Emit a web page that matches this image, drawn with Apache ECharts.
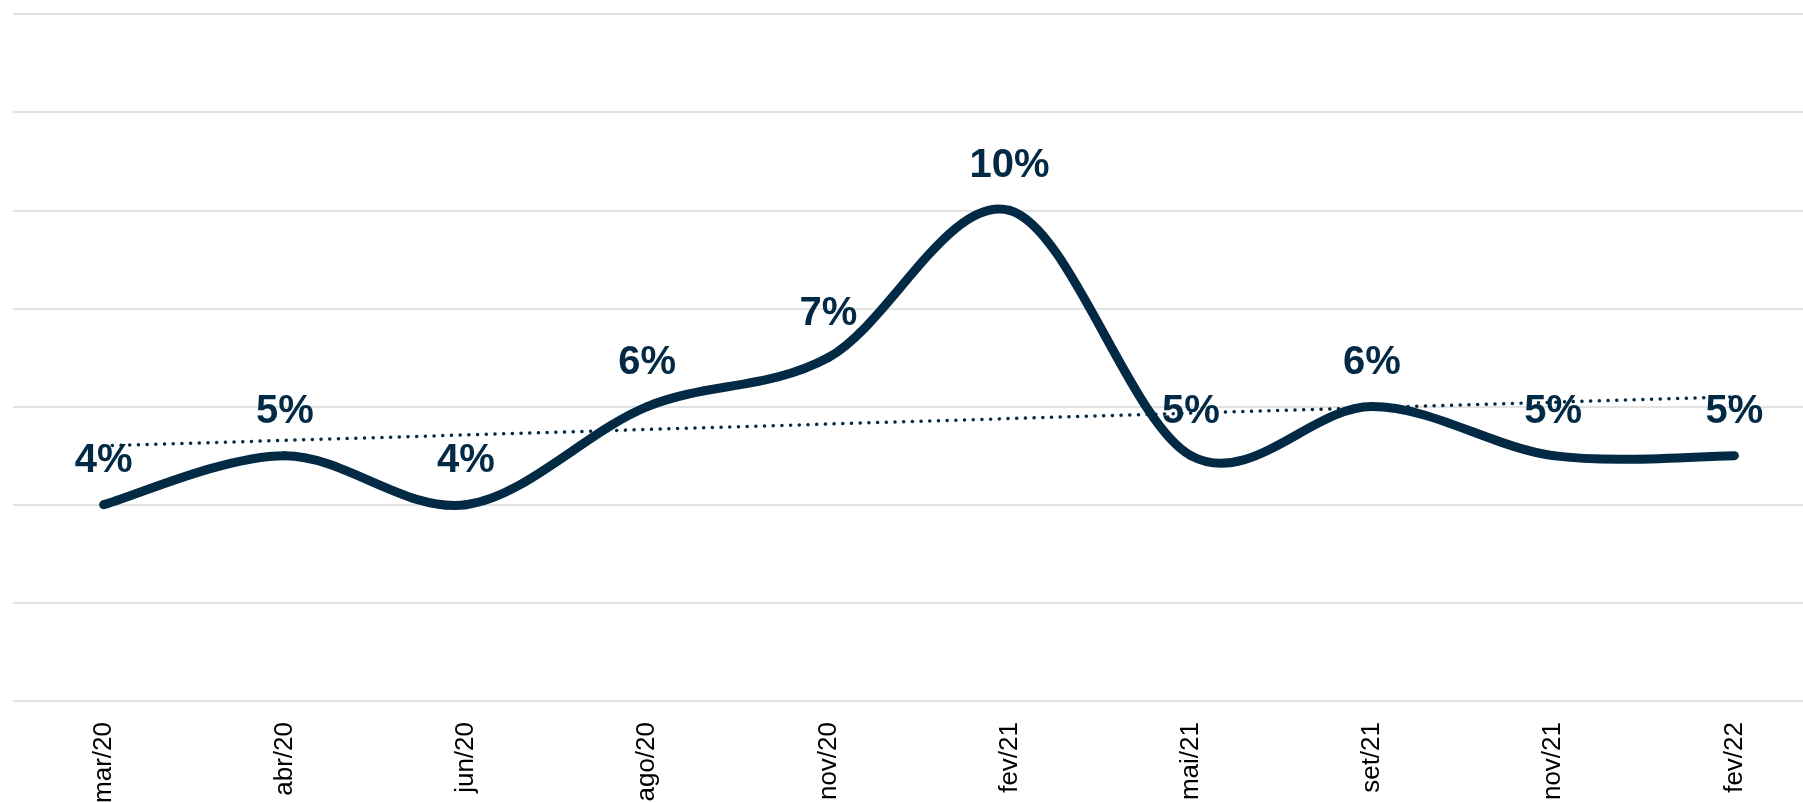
<!DOCTYPE html>
<html>
<head>
<meta charset="utf-8">
<script src="https://cdn.jsdelivr.net/npm/echarts@6/dist/echarts.min.js"></script>
<style>
  html, body { margin: 0; padding: 0; background: #fff; }
  #chart { width: 1803px; height: 802px; }
</style>
</head>
<body>
<div id="chart"></div>
<script>
var categories = ['mar/20', 'abr/20', 'jun/20', 'ago/20', 'nov/20', 'fev/21', 'mai/21', 'set/21', 'nov/21', 'fev/22'];
var values = [4.0, 5.0, 4.0, 6.0, 7.0, 10.0, 5.0, 6.0, 5.0, 5.0];
// trend line, read at first and last month
var trendValues = [5.2, null, null, null, null, null, null, null, null, 6.2];
var yMin = 0;
var yMax = 14;
var yStep = 2;

var navy = '#032a45';
var narrow = "'Liberation Sans Narrow', 'Arial Narrow', 'Liberation Sans', sans-serif";

var myChart = echarts.init(document.getElementById('chart'));

// spreadsheet-style smoothing (catmull-rom), one segment per point
function renderSegment(params, api) {
    var i = params.dataIndex;
    var n = values.length;
    if (i >= n - 1) {
        return null;
    }
    var p0 = api.coord([Math.max(i - 1, 0), values[Math.max(i - 1, 0)]]);
    var p1 = api.coord([i, values[i]]);
    var p2 = api.coord([i + 1, values[i + 1]]);
    var p3 = api.coord([Math.min(i + 2, n - 1), values[Math.min(i + 2, n - 1)]]);
    return {
        type: 'bezierCurve',
        shape: {
            x1: p1[0], y1: p1[1],
            x2: p2[0], y2: p2[1],
            cpx1: p1[0] + (p2[0] - p0[0]) / 6,
            cpy1: p1[1] + (p2[1] - p0[1]) / 6,
            cpx2: p2[0] - (p3[0] - p1[0]) / 6,
            cpy2: p2[1] - (p3[1] - p1[1]) / 6
        },
        style: {
            fill: null,
            stroke: navy,
            lineWidth: 9,
            lineCap: 'round'
        }
    };
}

var option = {
    animation: false,
    grid: {
        left: 13,
        top: 14,
        width: 1812,
        height: 687,
        containLabel: false,
        outerBoundsMode: 'none'
    },
    xAxis: {
        type: 'category',
        data: categories,
        boundaryGap: true,
        axisLine: {show: false},
        axisTick: {show: false},
        axisLabel: {
            rotate: 90,
            margin: 21,
            fontFamily: narrow,
            fontSize: 26,
            color: '#000'
        }
    },
    yAxis: {
        type: 'value',
        min: yMin,
        max: yMax,
        interval: yStep,
        axisLine: {show: false},
        axisTick: {show: false},
        axisLabel: {show: false},
        splitLine: {
            lineStyle: {color: '#d9d9d9', width: 1.5}
        }
    },
    series: [
        {
            // labels only, drawn under the trend line
            name: 'labels',
            type: 'line',
            data: values,
            z: 1,
            symbol: 'circle',
            symbolSize: 2,
            itemStyle: {color: 'rgba(0,0,0,0)'},
            lineStyle: {opacity: 0},
            label: {
                show: true,
                position: 'top',
                distance: 23,
                fontFamily: narrow,
                fontWeight: 'bold',
                fontSize: 40,
                color: navy,
                formatter: function (p) {
                    return Math.round(p.value) + '%';
                }
            }
        },
        {
            name: 'tendência',
            type: 'line',
            data: trendValues,
            connectNulls: true,
            z: 2,
            symbol: 'none',
            lineStyle: {
                color: navy,
                width: 3.5,
                type: [0.1, 8.6],
                cap: 'round'
            }
        },
        {
            name: 'valor',
            type: 'custom',
            data: values.map(function (v, i) { return [i, v]; }),
            z: 3,
            encode: {x: 0, y: 1},
            renderItem: renderSegment
        }
    ]
};

myChart.setOption(option);
</script>
</body>
</html>
